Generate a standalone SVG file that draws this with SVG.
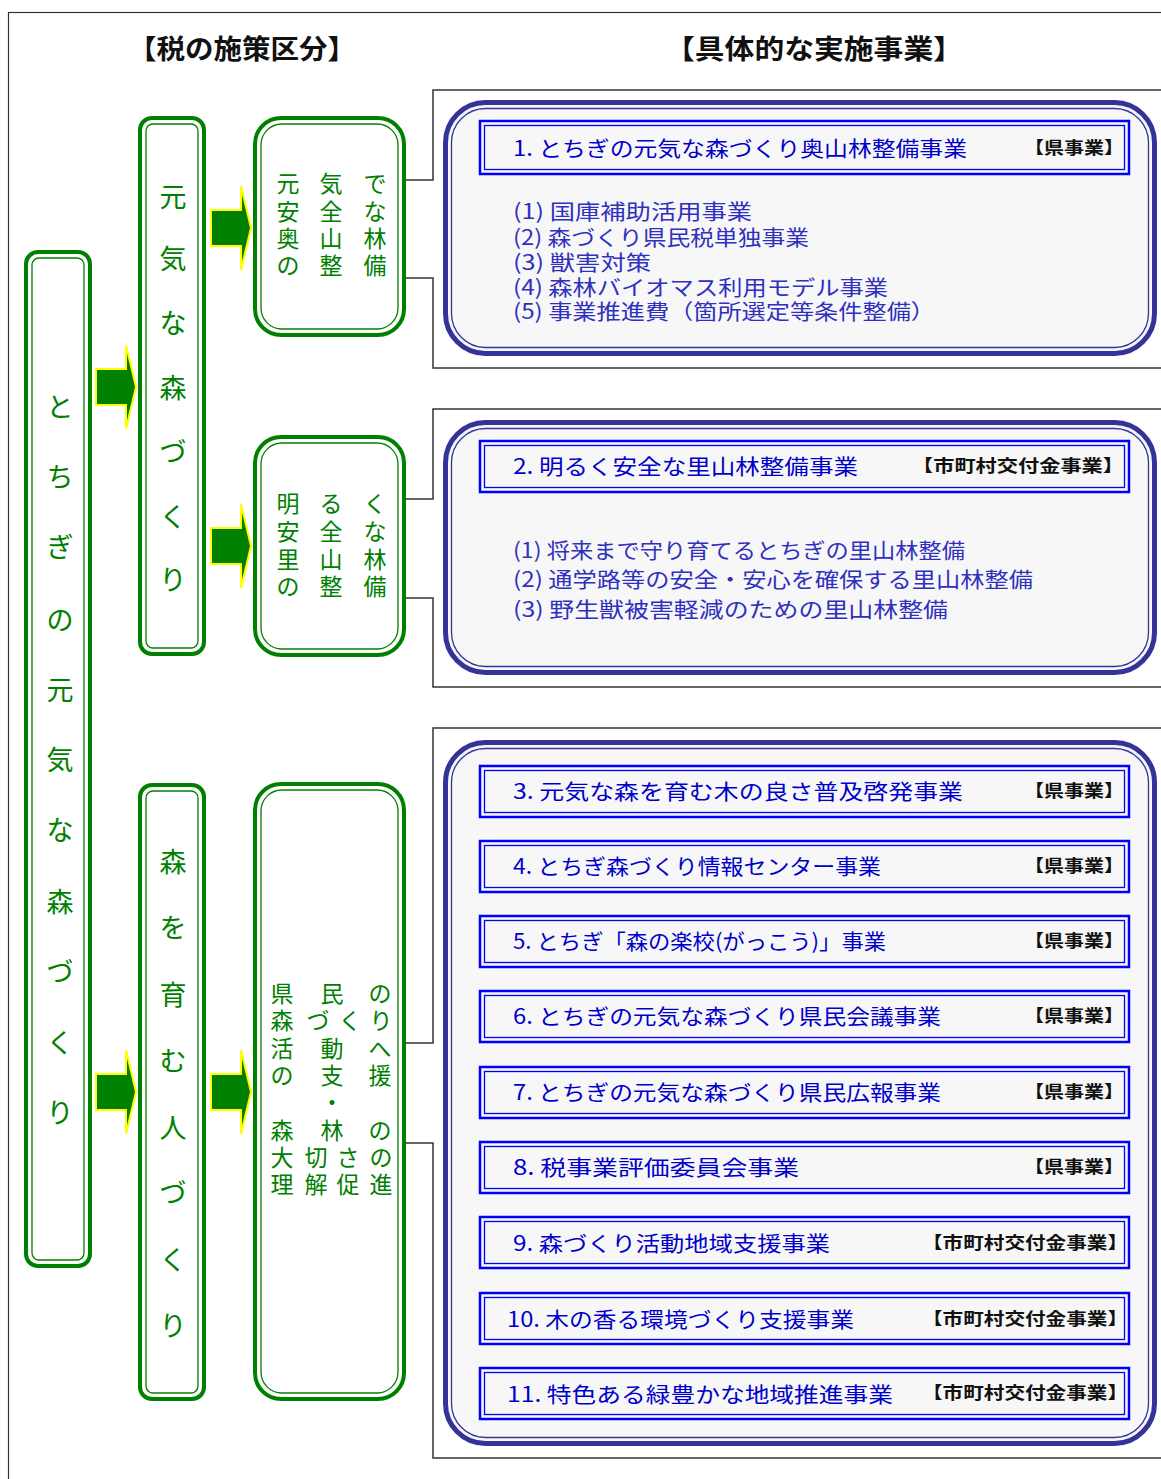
<svg xmlns="http://www.w3.org/2000/svg" width="1161" height="1479" viewBox="0 0 1161 1479">
<defs>
<style>
.g-out{fill:#fff;stroke:#008000;stroke-width:4}
.g-in{fill:none;stroke:#008000;stroke-width:1.3}
.b-out{fill:#f7f7f7;stroke:#333399;stroke-width:5}
.b-in{fill:none;stroke:#333399;stroke-width:1.3}
.t-out{fill:#f7f7f7;stroke:#0000ff;stroke-width:2.5}
.t-in{fill:none;stroke:#0000ff;stroke-width:1.3}
.conn{fill:none;stroke:#333;stroke-width:1.5}
.hdr{font-family:"Noto Sans CJK JP","Liberation Sans",sans-serif;font-weight:bold;font-size:27px;fill:#111}
.vt{font-family:"Noto Sans CJK JP","Liberation Sans",sans-serif;font-size:27px;fill:#008000;text-anchor:middle}
.vs{font-family:"Noto Sans CJK JP","Liberation Sans",sans-serif;font-size:23px;fill:#008000;text-anchor:middle}
.ttl{font-family:"Noto Sans CJK JP","Liberation Sans",sans-serif;font-size:21px;fill:#0000cc}
.tag{font-family:"Noto Sans CJK JP","Liberation Sans",sans-serif;font-weight:bold;font-size:17px;fill:#111;text-anchor:end}
.itm{font-family:"Noto Sans CJK JP","Liberation Sans",sans-serif;font-size:21px;fill:#3030c0}
</style>
<path id="arr" d="M0,-18 H30 V-42 L40,0 L30,42 V18 H0 Z" fill="#008000" stroke="#ffff00" stroke-width="2"/>
</defs>
<rect width="1161" height="1479" fill="#fff"/>
<rect x="8.5" y="12.5" width="1160" height="1480" fill="none" stroke="#333" stroke-width="1.2"/>

<text class="hdr" x="128" y="59" textLength="228" lengthAdjust="spacingAndGlyphs">【税の施策区分】</text>
<text class="hdr" x="665" y="59" textLength="298" lengthAdjust="spacingAndGlyphs">【具体的な実施事業】</text>

<g id="connectors">
<path class="conn" d="M406,180 H433 V90 H1165 M406,278 H433 V368 H1165"/>
<path class="conn" d="M406,499 H433 V409 H1165 M406,598 H433 V687 H1165"/>
<path class="conn" d="M406,1043 H433 V728 H1165 M406,1143 H433 V1458 H1165"/>
<use href="#arr" x="96" y="387"/>
<use href="#arr" x="211" y="228"/>
<use href="#arr" x="211" y="546"/>
<use href="#arr" x="96" y="1092"/>
<use href="#arr" x="211" y="1092"/>
</g>

<g id="root">
<rect class="g-out" x="26" y="252" width="64" height="1014" rx="12"/>
<rect class="g-in" x="32" y="258" width="52" height="1002" rx="7"/>
<text class="vt" x="60" y="417">と</text>
<text class="vt" x="60" y="487">ち</text>
<text class="vt" x="60" y="557">ぎ</text>
<text class="vt" x="60" y="630">の</text>
<text class="vt" x="60" y="700">元</text>
<text class="vt" x="60" y="770">気</text>
<text class="vt" x="60" y="840">な</text>
<text class="vt" x="60" y="912">森</text>
<text class="vt" x="60" y="982">づ</text>
<text class="vt" x="60" y="1053">く</text>
<text class="vt" x="60" y="1123">り</text>
</g>

<g id="cat-genki">
<rect class="g-out" x="140" y="118" width="64" height="536" rx="12"/>
<rect class="g-in" x="146" y="124" width="52" height="524" rx="7"/>
<text class="vt" x="173" y="207">元</text>
<text class="vt" x="173" y="269">気</text>
<text class="vt" x="173" y="333">な</text>
<text class="vt" x="173" y="398">森</text>
<text class="vt" x="173" y="462">づ</text>
<text class="vt" x="173" y="527">く</text>
<text class="vt" x="173" y="590">り</text>
</g>

<g id="cat-hito">
<rect class="g-out" x="140" y="785" width="64" height="614" rx="12"/>
<rect class="g-in" x="146" y="791" width="52" height="602" rx="7"/>
<text class="vt" x="173" y="872">森</text>
<text class="vt" x="173" y="938">を</text>
<text class="vt" x="173" y="1005">育</text>
<text class="vt" x="173" y="1071">む</text>
<text class="vt" x="173" y="1138">人</text>
<text class="vt" x="173" y="1203">づ</text>
<text class="vt" x="173" y="1270">く</text>
<text class="vt" x="173" y="1336">り</text>
</g>

<g id="sub-okuyama">
<rect class="g-out" x="255" y="118" width="149" height="217" rx="26"/>
<rect class="g-in" x="261" y="124" width="137" height="205" rx="21"/>
<text class="vs" x="288 331 375" y="192">元気で</text>
<text class="vs" x="288 331 375" y="220">安全な</text>
<text class="vs" x="288 331 375" y="247">奥山林</text>
<text class="vs" x="288 331 375" y="274">の整備</text>
</g>

<g id="sub-satoyama">
<rect class="g-out" x="255" y="437" width="149" height="218" rx="26"/>
<rect class="g-in" x="261" y="443" width="137" height="206" rx="21"/>
<text class="vs" x="288 331 375" y="512">明るく</text>
<text class="vs" x="288 331 375" y="540">安全な</text>
<text class="vs" x="288 331 375" y="568">里山林</text>
<text class="vs" x="288 331 375" y="595">の整備</text>
</g>

<g id="sub-kenmin">
<rect class="g-out" x="255" y="784" width="149" height="615" rx="26"/>
<rect class="g-in" x="261" y="790" width="137" height="603" rx="21"/>
<text class="vs" x="282 332 380" y="1002">県民の</text>
<text class="vs" x="282 318 350 381" y="1029">森づくり</text>
<text class="vs" x="282 332 380" y="1057">活動へ</text>
<text class="vs" x="282 332 380" y="1084">の支援</text>
<text class="vs" x="332" y="1111">・</text>
<text class="vs" x="282 332 380" y="1139">森林の</text>
<text class="vs" x="282 316 348 381" y="1166">大切さの</text>
<text class="vs" x="282 316 348 381" y="1193">理解促進</text>
</g>

<g id="proj-1">
<rect class="b-out" x="445.5" y="102.5" width="709" height="251" rx="40"/>
<rect class="b-in" x="451.5" y="108.5" width="697" height="239" rx="34"/>
<rect class="t-out" x="480" y="121" width="649" height="53"/>
<rect class="t-in" x="484.5" y="125.5" width="640" height="44"/>
<text class="ttl" x="513" y="156" textLength="454" lengthAdjust="spacingAndGlyphs">1. とちぎの元気な森づくり奥山林整備事業</text>
<text class="tag" x="1124" y="154" textLength="100" lengthAdjust="spacingAndGlyphs">【県事業】</text>
<text class="itm" x="513" y="219" textLength="239" lengthAdjust="spacingAndGlyphs">(1) 国庫補助活用事業</text>
<text class="itm" x="513" y="245" textLength="296" lengthAdjust="spacingAndGlyphs">(2) 森づくり県民税単独事業</text>
<text class="itm" x="513" y="270" textLength="138" lengthAdjust="spacingAndGlyphs">(3) 獣害対策</text>
<text class="itm" x="513" y="295" textLength="375" lengthAdjust="spacingAndGlyphs">(4) 森林バイオマス利用モデル事業</text>
<text class="itm" x="513" y="319" textLength="422" lengthAdjust="spacingAndGlyphs">(5) 事業推進費（箇所選定等条件整備）</text>
</g>

<g id="proj-2">
<rect class="b-out" x="445.5" y="422.5" width="709" height="250" rx="40"/>
<rect class="b-in" x="451.5" y="428.5" width="697" height="238" rx="34"/>
<rect class="t-out" x="480" y="441" width="649" height="51"/>
<rect class="t-in" x="484.5" y="445.5" width="640" height="42"/>
<text class="ttl" x="513" y="474" textLength="345" lengthAdjust="spacingAndGlyphs">2. 明るく安全な里山林整備事業</text>
<text class="tag" x="1124" y="472" textLength="212" lengthAdjust="spacingAndGlyphs">【市町村交付金事業】</text>
<text class="itm" x="513" y="558" textLength="452" lengthAdjust="spacingAndGlyphs">(1) 将来まで守り育てるとちぎの里山林整備</text>
<text class="itm" x="513" y="587" textLength="520" lengthAdjust="spacingAndGlyphs">(2) 通学路等の安全・安心を確保する里山林整備</text>
<text class="itm" x="513" y="617" textLength="435" lengthAdjust="spacingAndGlyphs">(3) 野生獣被害軽減のための里山林整備</text>
</g>

<g id="proj-3to11">
<rect class="b-out" x="445.5" y="742.5" width="709" height="701" rx="40"/>
<rect class="b-in" x="451.5" y="748.5" width="697" height="689" rx="34"/>
</g>

<g id="proj-3">
<rect class="t-out" x="480" y="766" width="649" height="51"/>
<rect class="t-in" x="484.5" y="770.5" width="640" height="42"/>
<text class="ttl" x="513" y="799" textLength="450" lengthAdjust="spacingAndGlyphs">3. 元気な森を育む木の良さ普及啓発事業</text>
<text class="tag" x="1124" y="797" textLength="100" lengthAdjust="spacingAndGlyphs">【県事業】</text>
</g>
<g id="proj-4">
<rect class="t-out" x="480" y="841" width="649" height="51"/>
<rect class="t-in" x="484.5" y="845.5" width="640" height="42"/>
<text class="ttl" x="513" y="874" textLength="368" lengthAdjust="spacingAndGlyphs">4. とちぎ森づくり情報センター事業</text>
<text class="tag" x="1124" y="872" textLength="100" lengthAdjust="spacingAndGlyphs">【県事業】</text>
</g>
<g id="proj-5">
<rect class="t-out" x="480" y="916" width="649" height="51"/>
<rect class="t-in" x="484.5" y="920.5" width="640" height="42"/>
<text class="ttl" x="513" y="949" textLength="373" lengthAdjust="spacingAndGlyphs">5. とちぎ「森の楽校(がっこう)」事業</text>
<text class="tag" x="1124" y="947" textLength="100" lengthAdjust="spacingAndGlyphs">【県事業】</text>
</g>
<g id="proj-6">
<rect class="t-out" x="480" y="991" width="649" height="51"/>
<rect class="t-in" x="484.5" y="995.5" width="640" height="42"/>
<text class="ttl" x="513" y="1024" textLength="428" lengthAdjust="spacingAndGlyphs">6. とちぎの元気な森づくり県民会議事業</text>
<text class="tag" x="1124" y="1022" textLength="100" lengthAdjust="spacingAndGlyphs">【県事業】</text>
</g>
<g id="proj-7">
<rect class="t-out" x="480" y="1067" width="649" height="51"/>
<rect class="t-in" x="484.5" y="1071.5" width="640" height="42"/>
<text class="ttl" x="513" y="1100" textLength="428" lengthAdjust="spacingAndGlyphs">7. とちぎの元気な森づくり県民広報事業</text>
<text class="tag" x="1124" y="1098" textLength="100" lengthAdjust="spacingAndGlyphs">【県事業】</text>
</g>
<g id="proj-8">
<rect class="t-out" x="480" y="1142" width="649" height="51"/>
<rect class="t-in" x="484.5" y="1146.5" width="640" height="42"/>
<text class="ttl" x="513" y="1175" textLength="286" lengthAdjust="spacingAndGlyphs">8. 税事業評価委員会事業</text>
<text class="tag" x="1124" y="1173" textLength="100" lengthAdjust="spacingAndGlyphs">【県事業】</text>
</g>
<g id="proj-9">
<rect class="t-out" x="480" y="1217" width="649" height="51"/>
<rect class="t-in" x="484.5" y="1221.5" width="640" height="42"/>
<text class="ttl" x="513" y="1251" textLength="317" lengthAdjust="spacingAndGlyphs">9. 森づくり活動地域支援事業</text>
<text class="tag" x="1128" y="1249" textLength="206" lengthAdjust="spacingAndGlyphs">【市町村交付金事業】</text>
</g>
<g id="proj-10">
<rect class="t-out" x="480" y="1293" width="649" height="51"/>
<rect class="t-in" x="484.5" y="1297.5" width="640" height="42"/>
<text class="ttl" x="507" y="1327" textLength="347" lengthAdjust="spacingAndGlyphs">10. 木の香る環境づくり支援事業</text>
<text class="tag" x="1128" y="1325" textLength="206" lengthAdjust="spacingAndGlyphs">【市町村交付金事業】</text>
</g>
<g id="proj-11">
<rect class="t-out" x="480" y="1368" width="649" height="51"/>
<rect class="t-in" x="484.5" y="1372.5" width="640" height="42"/>
<text class="ttl" x="507" y="1402" textLength="386" lengthAdjust="spacingAndGlyphs">11. 特色ある緑豊かな地域推進事業</text>
<text class="tag" x="1128" y="1399" textLength="206" lengthAdjust="spacingAndGlyphs">【市町村交付金事業】</text>
</g>
</svg>
